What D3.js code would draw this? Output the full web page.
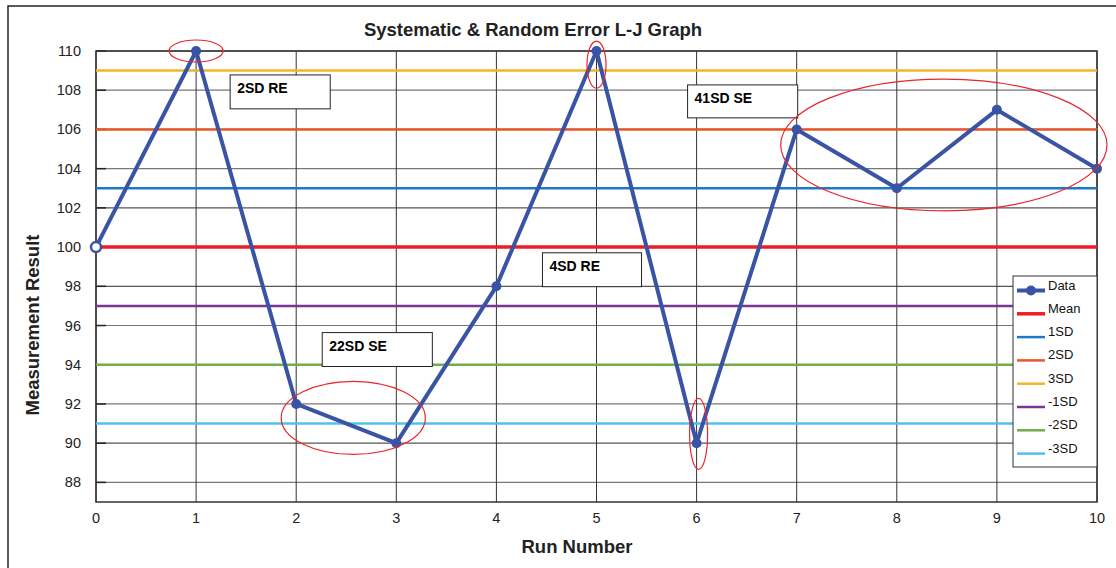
<!DOCTYPE html>
<html>
<head>
  <meta charset="utf-8">
  <title>Systematic & Random Error L-J Graph</title>
  <script src="https://d3js.org/d3.v7.min.js"></script>
  <style>
    body { margin: 0; background: #fff; }
    * { font-family: "Liberation Sans", Arial, sans-serif; }
    .tick-label { font-size: 14.5px; fill: #222; }
    .axis-title { font-size: 18.5px; font-weight: bold; fill: #222; }
    .legend-text { font-size: 13px; fill: #111; }
    .note { font-size: 14px; font-weight: bold; fill: #000; }
  </style>
</head>
<body>
<script>
  // run numbers and measured values
  const runs = [0, 1, 2, 3, 4, 5, 6, 7, 8, 9, 10];
  const results = [100, 110, 92, 90, 98, 110, 90, 106, 103, 107, 104];

  // control limits (mean 100, SD 3)
  const limitNames = ["Mean", "1SD", "2SD", "3SD", "-1SD", "-2SD", "-3SD"];
  const limitValues = [100, 103, 106, 109, 97, 94, 91];
  const limitColors = ["#ee1c25", "#1f78c1", "#e8562a", "#f2b42c", "#7a3594", "#72ac4d", "#50c0ec"];
  const limitWidths = [3.5, 2.5, 2.5, 2.5, 2.5, 2.5, 2.5];

  const yTicks = [88, 90, 92, 94, 96, 98, 100, 102, 104, 106, 108, 110];

  // rule annotations, in data units: [x0, x1, yTop, yBottom]
  const noteLabels = ["2SD RE", "22SD SE", "4SD RE", "41SD SE"];
  const noteBoxes = [[1.34, 2.34, 108.78, 107.05], [2.26, 3.36, 95.64, 93.91],
                     [4.46, 5.45, 99.71, 97.98], [5.91, 7.01, 108.27, 106.59]];

  // red circles around flagged points: [cx, cy, rx, ry] in data units
  const flags = [[1.0, 110.0, 0.27, 0.56], [2.57, 91.29, 0.72, 1.86], [5.0, 109.3, 0.095, 1.2],
                 [6.02, 90.47, 0.09, 1.81], [8.47, 105.21, 1.63, 3.36]];

  const W = 1116, H = 568;
  const plot = {left: 96, right: 1097, top: 51, bottom: 502};

  const svg = d3.select("body").append("svg")
    .attr("width", W)
    .attr("height", H);

  const x = d3.scaleLinear().domain([0, 10]).range([plot.left, plot.right]);
  const y = d3.scaleLinear().domain([87, 110]).range([plot.bottom, plot.top]);

  // outer frame
  svg.append("rect")
    .attr("x", 8).attr("y", 6)
    .attr("width", W + 20).attr("height", H + 20)
    .attr("fill", "none").attr("stroke", "#222").attr("stroke-width", 1.5);

  // title
  svg.append("text")
    .attr("class", "axis-title")
    .attr("x", 533).attr("y", 36)
    .attr("text-anchor", "middle")
    .text("Systematic & Random Error L-J Graph");

  // gridlines
  svg.append("g").selectAll("line")
    .data(yTicks)
    .join("line")
    .attr("x1", plot.left).attr("x2", plot.right)
    .attr("y1", d => y(d)).attr("y2", d => y(d))
    .attr("stroke", (d, i) => i % 2 ? "#555" : "#777")
    .attr("stroke-width", 1.2);

  svg.append("g").selectAll("line")
    .data(runs)
    .join("line")
    .attr("x1", d => x(d)).attr("x2", d => x(d))
    .attr("y1", plot.top).attr("y2", plot.bottom)
    .attr("stroke", "#333")
    .attr("stroke-width", 1);

  // short tick stubs on the y axis
  svg.append("g").selectAll("line")
    .data(yTicks)
    .join("line")
    .attr("x1", plot.left).attr("x2", plot.left + 10)
    .attr("y1", d => y(d)).attr("y2", d => y(d))
    .attr("stroke", "#222").attr("stroke-width", 1.5);

  // plot frame
  svg.append("rect")
    .attr("x", plot.left).attr("y", plot.top)
    .attr("width", plot.right - plot.left).attr("height", plot.bottom - plot.top)
    .attr("fill", "none").attr("stroke", "#333").attr("stroke-width", 1.5);

  // tick labels
  svg.append("g").selectAll("text")
    .data(yTicks)
    .join("text")
    .attr("class", "tick-label")
    .attr("x", 81).attr("y", d => y(d) + 5)
    .attr("text-anchor", "end")
    .text(d => d);

  svg.append("g").selectAll("text")
    .data(runs)
    .join("text")
    .attr("class", "tick-label")
    .attr("x", d => x(d)).attr("y", plot.bottom + 21)
    .attr("text-anchor", "middle")
    .text(d => d);

  // axis titles
  svg.append("text")
    .attr("class", "axis-title")
    .attr("x", 577).attr("y", 553)
    .attr("text-anchor", "middle")
    .text("Run Number");

  svg.append("text")
    .attr("class", "axis-title")
    .attr("transform", "translate(39,325) rotate(-90)")
    .attr("text-anchor", "middle")
    .text("Measurement Result");

  // control limit lines
  svg.append("g").selectAll("line")
    .data(limitValues)
    .join("line")
    .attr("x1", plot.left).attr("x2", plot.right)
    .attr("y1", d => y(d)).attr("y2", d => y(d))
    .attr("stroke", (d, i) => limitColors[i])
    .attr("stroke-width", (d, i) => limitWidths[i]);

  // annotation boxes
  const notes = svg.append("g").selectAll("g")
    .data(noteBoxes)
    .join("g");
  notes.append("rect")
    .attr("x", d => x(d[0])).attr("y", d => y(d[2]))
    .attr("width", d => x(d[1]) - x(d[0]))
    .attr("height", d => y(d[3]) - y(d[2]))
    .attr("fill", "#fff").attr("stroke", "#222").attr("stroke-width", 1);
  notes.append("text")
    .attr("class", "note")
    .attr("x", d => x(d[0]) + 7)
    .attr("y", d => y(d[2]) + 18)
    .text((d, i) => noteLabels[i]);

  // data line + markers
  const line = d3.line()
    .x((d, i) => x(runs[i]))
    .y(d => y(d));

  svg.append("path")
    .datum(results)
    .attr("d", line)
    .attr("fill", "none")
    .attr("stroke", "#3a54a5")
    .attr("stroke-width", 4)
    .attr("stroke-linejoin", "round");

  svg.append("g").selectAll("circle")
    .data(results)
    .join("circle")
    .attr("cx", (d, i) => x(runs[i]))
    .attr("cy", d => y(d))
    .attr("r", 5)
    .attr("fill", (d, i) => i === 0 ? "#fff" : "#3a54a5")
    .attr("stroke", "#3a54a5")
    .attr("stroke-width", (d, i) => i === 0 ? 2.5 : 0);

  // red ellipses
  svg.append("g").selectAll("ellipse")
    .data(flags)
    .join("ellipse")
    .attr("cx", d => x(d[0])).attr("cy", d => y(d[1]))
    .attr("rx", d => x(d[2]) - x(0))
    .attr("ry", d => y(0) - y(d[3]))
    .attr("fill", "none")
    .attr("stroke", "#e8262b")
    .attr("stroke-width", 1.2);

  // legend
  const legendX = 1013, legendY = 276, rowH = 23.3;
  const legendNames = ["Data"].concat(limitNames);
  const legendColors = ["#3a54a5"].concat(limitColors);
  const legendWidths = [4].concat(limitWidths);

  svg.append("rect")
    .attr("x", legendX).attr("y", legendY)
    .attr("width", 84).attr("height", 191)
    .attr("fill", "#fff").attr("stroke", "#333").attr("stroke-width", 1);

  const rows = svg.append("g").selectAll("g")
    .data(legendNames)
    .join("g")
    .attr("transform", (d, i) => "translate(" + legendX + "," + (legendY + 14.5 + i * rowH) + ")");
  rows.append("line")
    .attr("x1", 4).attr("x2", 32)
    .attr("y1", 0).attr("y2", 0)
    .attr("stroke", (d, i) => legendColors[i])
    .attr("stroke-width", (d, i) => legendWidths[i]);
  rows.filter((d, i) => i === 0).append("circle")
    .attr("cx", 18).attr("cy", 0).attr("r", 5)
    .attr("fill", "#3a54a5");
  rows.append("text")
    .attr("class", "legend-text")
    .attr("x", 35).attr("y", -1)
    .text(d => d);
</script>
</body>
</html>
